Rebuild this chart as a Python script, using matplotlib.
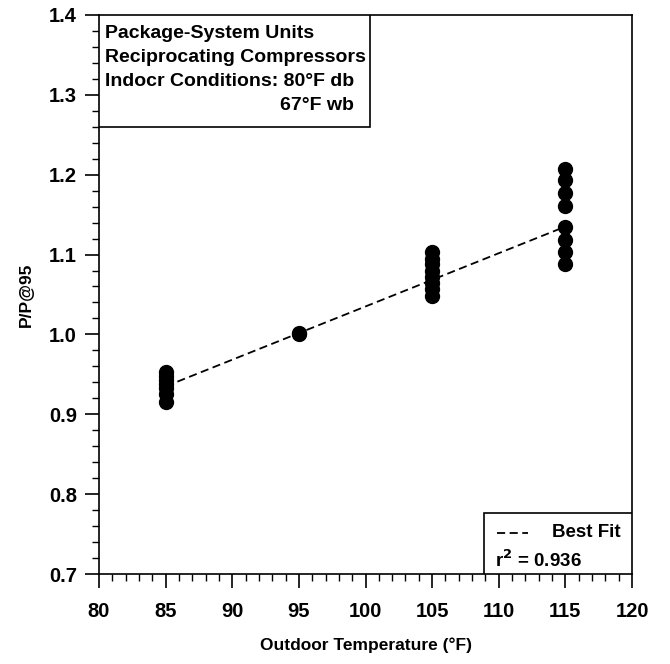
import numpy as np
import matplotlib
matplotlib.use("Agg")
import matplotlib.pyplot as plt
from matplotlib.ticker import MultipleLocator, FormatStrFormatter
from matplotlib.patches import Rectangle
from matplotlib.lines import Line2D

plt.rcParams['font.family'] = ['Liberation Sans', 'DejaVu Sans']
plt.rcParams['font.weight'] = 'bold'

# Measured capacity ratio P/P@95 at each outdoor temperature
temp_85 = [0.953, 0.948, 0.943, 0.938, 0.933, 0.925, 0.915]
temp_95 = [1.000, 1.002]
temp_105 = [1.103, 1.095, 1.088, 1.080, 1.072, 1.065, 1.057, 1.048]
temp_115 = [1.207, 1.193, 1.177, 1.161, 1.135, 1.118, 1.103, 1.088]
temperatures = [85, 95, 105, 115]

# Linear best fit
fit_x = [85, 115]
fit_y = [0.935, 1.135]
r_squared = 0.936

fig = plt.figure(figsize=(6.7, 6.64), dpi=100)
ax = fig.add_axes([0.1478, 0.1355, 0.7955, 0.842])

for t, vals in zip(temperatures, [temp_85, temp_95, temp_105, temp_115]):
    ax.plot([t] * len(vals), vals, 'o', color='black', ms=10, mec='black', zorder=3)

ax.plot(fit_x, fit_y, color='black', lw=1.3, dashes=(4.5, 2.5), zorder=2)

ax.set_xlim(80, 120)
ax.set_ylim(0.7, 1.4)
ax.xaxis.set_major_locator(MultipleLocator(5))
ax.xaxis.set_minor_locator(MultipleLocator(1))
ax.yaxis.set_major_locator(MultipleLocator(0.1))
ax.yaxis.set_minor_locator(MultipleLocator(0.02))
ax.yaxis.set_major_formatter(FormatStrFormatter('%.1f'))
ax.tick_params(which='major', direction='out', length=10, width=1.2, labelsize=14.5)
ax.tick_params(axis='x', which='major', pad=10)
ax.tick_params(axis='y', which='major', pad=6)
ax.tick_params(which='minor', direction='out', length=5, width=1.0)
for s in ax.spines.values():
    s.set_linewidth(1.2)

ax.set_xlabel('Outdoor Temperature (°F)', fontsize=12.5, fontweight='bold', labelpad=12)
ax.set_ylabel('P/P@95', fontsize=12.5, fontweight='bold', labelpad=11)

# Description box in the upper-left corner
box_w = (370 - 99) / 533
box_h = (127 - 15) / 559
ax.add_patch(Rectangle((0, 1 - box_h), box_w, box_h, transform=ax.transAxes,
                       facecolor='white', edgecolor='black', lw=1.2, zorder=4))
lines = ['Package-System Units', 'Reciprocating Compressors',
         'Indocr Conditions: 80°F db']
step = 0.0429
texts = []
for i, txt in enumerate(lines):
    texts.append(ax.text(0.011, 0.966 - i * step, txt, transform=ax.transAxes,
                         fontsize=14, va='center', ha='left', zorder=5))

# Right-align the wet-bulb line with the end of the dry-bulb line
fig.canvas.draw()
bb = texts[2].get_window_extent()
right_x = ax.transAxes.inverted().transform((bb.x1, bb.y0))[0]
ax.text(right_x, 0.966 - 3 * step, '67°F wb', transform=ax.transAxes,
        fontsize=14, va='center', ha='right', zorder=5)

# Legend box in the lower-right corner
leg_x0 = (484 - 99) / 533
leg_h = (574 - 513) / 559
ax.add_patch(Rectangle((leg_x0, 0), 1 - leg_x0, leg_h, transform=ax.transAxes,
                       facecolor='white', edgecolor='black', lw=1.2, zorder=4))
ax.add_line(Line2D([0.7467, 0.805], [leg_h * 0.68, leg_h * 0.68],
                   transform=ax.transAxes, color='black', lw=1.3, dashes=(4.5, 2.5), zorder=5))
ax.text(0.85, leg_h * 0.68, 'Best Fit', transform=ax.transAxes,
        fontsize=13.5, va='center', ha='left', zorder=5)
ax.text(0.743, leg_h * 0.22, f'r$^\\mathbf{{2}}$ = {r_squared:.3f}', transform=ax.transAxes,
        fontsize=13.5, va='center', ha='left', zorder=5)

fig.savefig('out.png', dpi=100)
